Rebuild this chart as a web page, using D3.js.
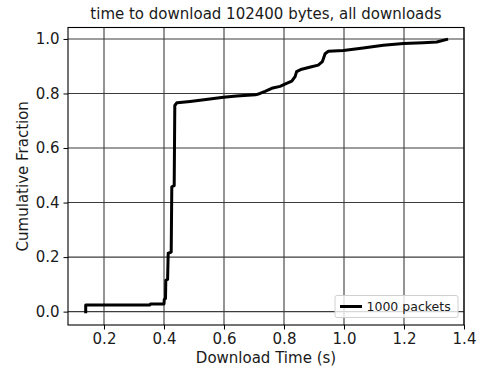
<!DOCTYPE html>
<html>
<head>
<meta charset="utf-8">
<script src="https://cdn.jsdelivr.net/npm/d3@7"></script>
<style>
  html, body { margin: 0; padding: 0; background: #fff; }
  text { font-family: "DejaVu Sans", sans-serif; fill: #1a1a1a; }
</style>
</head>
<body>
<svg id="chart" width="480" height="372"></svg>
<script>
// Empirical CDF of download times for 102400-byte transfers
const downloadTime = [
  0.139, 0.139, 0.353, 0.355, 0.400, 0.401, 0.405, 0.406, 0.412, 0.414,
  0.424, 0.426, 0.434, 0.436, 0.443, 0.453, 0.487, 0.553, 0.598, 0.642,
  0.705, 0.720, 0.737, 0.759, 0.787, 0.803, 0.826, 0.837, 0.842, 0.859,
  0.892, 0.914, 0.928, 0.937, 0.948, 0.998, 1.064, 1.131, 1.198, 1.264,
  1.309, 1.342
];
const cumFraction = [
  0.000, 0.024, 0.024, 0.028, 0.028, 0.045, 0.048, 0.115, 0.118, 0.214,
  0.218, 0.458, 0.462, 0.756, 0.766, 0.767, 0.771, 0.780, 0.786, 0.791,
  0.795, 0.800, 0.808, 0.819, 0.826, 0.834, 0.845, 0.862, 0.880, 0.889,
  0.898, 0.904, 0.917, 0.946, 0.955, 0.958, 0.967, 0.977, 0.983, 0.986,
  0.989, 0.998
];
const xTicks = [0.2, 0.4, 0.6, 0.8, 1.0, 1.2, 1.4];
const yTicks = [0.0, 0.2, 0.4, 0.6, 0.8, 1.0];
const seriesLabel = "1000 packets";
const titleText = "time to download 102400 bytes, all downloads";
const xLabel = "Download Time (s)";
const yLabel = "Cumulative Fraction";

const svg = d3.select("#chart");
const plot = { left: 68, right: 464, top: 27.5, bottom: 325 };

const x = d3.scaleLinear().domain([0.08, 1.40]).range([plot.left, plot.right]);
const y = d3.scaleLinear().domain([-0.049, 1.042]).range([plot.bottom, plot.top]);

svg.append("rect").attr("width", 480).attr("height", 372).attr("fill", "#fff");

// grid
const grid = svg.append("g").attr("stroke", "#3c3c3c").attr("stroke-width", 1.1);
grid.selectAll("line.gx").data(xTicks).join("line")
  .attr("x1", d => x(d)).attr("x2", d => x(d))
  .attr("y1", plot.top).attr("y2", plot.bottom);
grid.selectAll("line.gy").data(yTicks).join("line")
  .attr("x1", plot.left).attr("x2", plot.right)
  .attr("y1", d => y(d)).attr("y2", d => y(d));

// CDF line
const pts = downloadTime.map((t, i) => [t, cumFraction[i]]);
svg.append("path")
  .datum(pts)
  .attr("fill", "none")
  .attr("stroke", "#000")
  .attr("stroke-width", 3)
  .attr("stroke-linejoin", "round")
  .attr("stroke-linecap", "square")
  .attr("d", d3.line().x(d => x(d[0])).y(d => y(d[1])));

// axes
const xAxis = d3.axisBottom(x).tickValues(xTicks).tickFormat(d3.format(".1f"))
  .tickSize(4.5).tickPadding(4);
const yAxis = d3.axisLeft(y).tickValues(yTicks).tickFormat(d3.format(".1f"))
  .tickSize(4.5).tickPadding(4);

const gx = svg.append("g").attr("transform", `translate(0,${plot.bottom})`).call(xAxis);
const gy = svg.append("g").attr("transform", `translate(${plot.left},0)`).call(yAxis);
[gx, gy].forEach(g => {
  g.select(".domain").remove();
  g.selectAll(".tick line").attr("stroke", "#000").attr("stroke-width", 1);
  g.selectAll(".tick text").attr("font-size", 15).attr("font-family", "DejaVu Sans").attr("fill", "#1a1a1a");
});

// frame
svg.append("rect")
  .attr("x", plot.left).attr("y", plot.top)
  .attr("width", plot.right - plot.left).attr("height", plot.bottom - plot.top)
  .attr("fill", "none").attr("stroke", "#000").attr("stroke-width", 1.1);

// legend
const leg = svg.append("g");
leg.append("rect")
  .attr("x", 335).attr("y", 295.5).attr("width", 123).attr("height", 22).attr("rx", 2)
  .attr("fill", "#fff").attr("fill-opacity", 0.8)
  .attr("stroke", "#d0d0d0").attr("stroke-width", 1);
leg.append("line")
  .attr("x1", 340).attr("x2", 362).attr("y1", 306.5).attr("y2", 306.5)
  .attr("stroke", "#000").attr("stroke-width", 3);
leg.append("text")
  .attr("x", 366.5).attr("y", 311)
  .attr("font-size", 12.5)
  .text(seriesLabel);

// titles
svg.append("text")
  .attr("x", (plot.left + plot.right) / 2).attr("y", 18.5)
  .attr("text-anchor", "middle").attr("font-size", 15)
  .text(titleText);
svg.append("text")
  .attr("x", (plot.left + plot.right) / 2).attr("y", 363)
  .attr("text-anchor", "middle").attr("font-size", 15)
  .text(xLabel);
svg.append("text")
  .attr("transform", `translate(27.5,${(plot.top + plot.bottom) / 2}) rotate(-90)`)
  .attr("text-anchor", "middle").attr("font-size", 15)
  .text(yLabel);
</script>
</body>
</html>
